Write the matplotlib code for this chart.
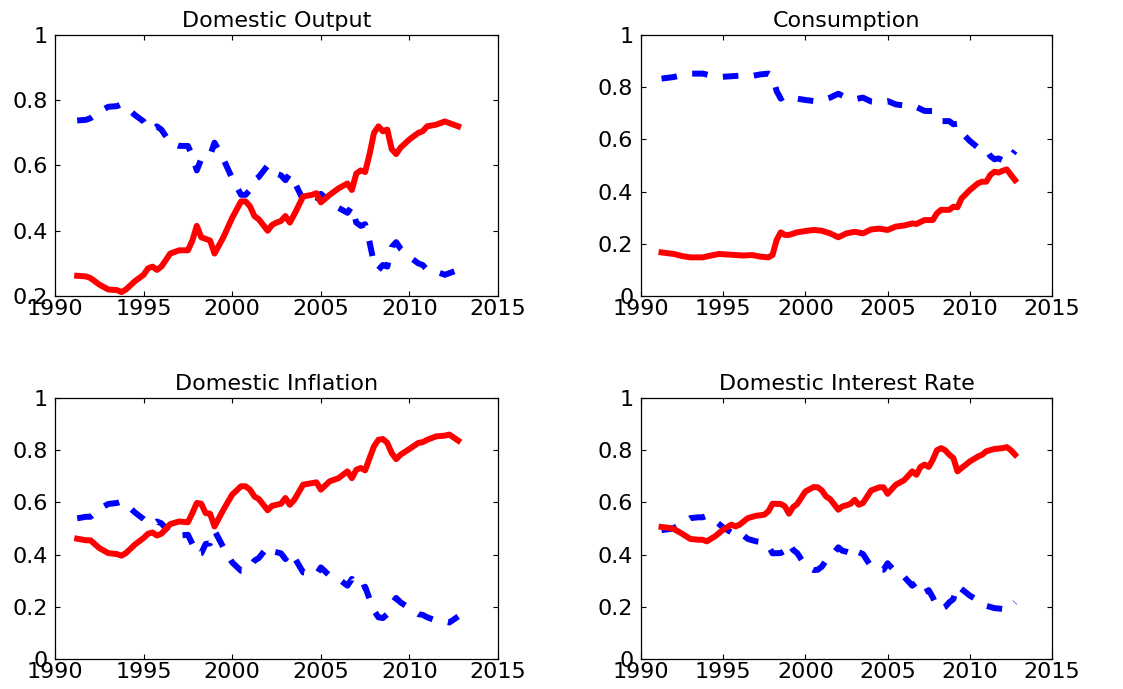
import matplotlib
matplotlib.use("Agg")
import matplotlib.pyplot as plt

# ---- data ----
titles = ["Domestic Output", "Consumption", "Domestic Inflation", "Domestic Interest Rate"]

yrs_output = [1991.25, 1991.75, 1992.0, 1992.5, 1993.0, 1993.5, 1993.75, 1994.0, 1994.5, 1995.0,
              1995.25, 1995.5, 1995.75, 1996.0, 1996.5, 1997.0, 1997.5, 1997.75, 1998.0, 1998.25,
              1998.75, 1999.0, 1999.5, 2000.0, 2000.5, 2000.75, 2001.0, 2001.25, 2001.5, 2002.0,
              2002.25, 2002.5, 2002.75, 2003.0, 2003.25, 2003.5, 2004.0, 2004.5, 2004.75, 2005.0,
              2005.5, 2006.0, 2006.5, 2006.75, 2007.0, 2007.25, 2007.5, 2007.75, 2008.0, 2008.25,
              2008.5, 2008.75, 2009.0, 2009.25, 2009.5, 2010.0, 2010.5, 2010.75, 2011.0, 2011.5,
              2012.0, 2012.25, 2012.75]
red_output = [0.262, 0.26, 0.255, 0.235, 0.22, 0.218, 0.212, 0.22, 0.245, 0.265,
              0.285, 0.29, 0.28, 0.29, 0.33, 0.34, 0.34, 0.37, 0.415, 0.38,
              0.37, 0.33, 0.38, 0.44, 0.49, 0.49, 0.475, 0.445, 0.435, 0.40,
              0.418, 0.425, 0.43, 0.445, 0.425, 0.45, 0.505, 0.51, 0.515, 0.487,
              0.51, 0.53, 0.545, 0.525, 0.575, 0.585, 0.58, 0.635, 0.70, 0.72,
              0.705, 0.71, 0.65, 0.635, 0.655, 0.68, 0.70, 0.705, 0.72, 0.725,
              0.735, 0.73, 0.72]
blue_output = [0.738, 0.74, 0.745, 0.765, 0.78, 0.782, 0.788, 0.78, 0.755, 0.735,
               0.715, 0.71, 0.72, 0.71, 0.67, 0.66, 0.66, 0.63, 0.585, 0.62,
               0.63, 0.67, 0.62, 0.56, 0.51, 0.51, 0.525, 0.555, 0.565, 0.60,
               0.582, 0.575, 0.57, 0.555, 0.575, 0.55, 0.495, 0.49, 0.485, 0.513,
               0.49, 0.47, 0.455, 0.475, 0.425, 0.415, 0.42, 0.365, 0.30, 0.28,
               0.295, 0.29, 0.35, 0.365, 0.345, 0.32, 0.30, 0.295, 0.28, 0.275,
               0.265, 0.27, 0.28]

yrs_cons = [1991.25, 1992.0, 1992.5, 1993.0, 1993.75, 1994.25, 1994.75, 1995.5, 1996.25, 1996.75,
            1997.25, 1997.75, 1998.0, 1998.25, 1998.5, 1998.75, 1999.0, 1999.5, 2000.0, 2000.5,
            2001.0, 2001.5, 2002.0, 2002.5, 2003.0, 2003.5, 2004.0, 2004.5, 2005.0, 2005.5,
            2006.0, 2006.5, 2006.75, 2007.25, 2007.75, 2008.0, 2008.25, 2008.75, 2009.0, 2009.25,
            2009.5, 2010.0, 2010.5, 2010.75, 2011.0, 2011.25, 2011.5, 2011.75, 2012.0, 2012.25,
            2012.5, 2012.75]
red_cons = [0.167, 0.161, 0.153, 0.148, 0.148, 0.155, 0.161, 0.158, 0.155, 0.157,
            0.151, 0.148, 0.157, 0.215, 0.244, 0.234, 0.234, 0.244, 0.249, 0.253,
            0.25, 0.24, 0.225, 0.24, 0.246, 0.24, 0.255, 0.258, 0.253, 0.266,
            0.27, 0.278, 0.276, 0.291, 0.291, 0.317, 0.33, 0.33, 0.342, 0.34,
            0.374, 0.406, 0.432, 0.438, 0.438, 0.464, 0.476, 0.473, 0.48, 0.485,
            0.464, 0.444]
blue_cons = [0.833, 0.839, 0.847, 0.852, 0.852, 0.845, 0.839, 0.842, 0.845, 0.843,
             0.849, 0.852, 0.843, 0.785, 0.756, 0.766, 0.766, 0.756, 0.751, 0.747,
             0.75, 0.76, 0.775, 0.76, 0.754, 0.76, 0.745, 0.742, 0.747, 0.734,
             0.73, 0.722, 0.724, 0.709, 0.709, 0.683, 0.67, 0.67, 0.658, 0.66,
             0.626, 0.594, 0.568, 0.562, 0.562, 0.536, 0.524, 0.527, 0.52, 0.515,
             0.536, 0.556]

yrs_infl = [1991.25, 1991.75, 1992.0, 1992.5, 1993.0, 1993.5, 1993.75, 1994.0, 1994.5, 1995.0,
            1995.25, 1995.5, 1995.75, 1996.0, 1996.5, 1997.0, 1997.5, 1997.75, 1998.0, 1998.25,
            1998.5, 1998.75, 1999.0, 1999.5, 2000.0, 2000.5, 2000.75, 2001.0, 2001.25, 2001.5,
            2002.0, 2002.25, 2002.5, 2002.75, 2003.0, 2003.25, 2003.5, 2004.0, 2004.5, 2004.75,
            2005.0, 2005.5, 2006.0, 2006.5, 2006.75, 2007.0, 2007.25, 2007.5, 2007.75, 2008.0,
            2008.25, 2008.5, 2008.75, 2009.0, 2009.25, 2009.5, 2010.0, 2010.5, 2010.75, 2011.0,
            2011.5, 2012.0, 2012.25, 2012.75]
red_infl = [0.461, 0.455, 0.455, 0.425, 0.406, 0.402, 0.396, 0.406, 0.438, 0.464,
            0.48, 0.485, 0.473, 0.48, 0.517, 0.527, 0.524, 0.559, 0.598, 0.595,
            0.559, 0.557, 0.508, 0.572, 0.63, 0.662, 0.662, 0.649, 0.623, 0.613,
            0.57, 0.587, 0.591, 0.595, 0.617, 0.591, 0.61, 0.668, 0.674, 0.677,
            0.649, 0.681, 0.693, 0.719, 0.693, 0.725, 0.732, 0.723, 0.77, 0.815,
            0.84, 0.843, 0.828, 0.789, 0.766, 0.783, 0.805, 0.828, 0.831, 0.84,
            0.853, 0.856, 0.86, 0.837]
blue_infl = [0.539, 0.545, 0.545, 0.575, 0.594, 0.598, 0.604, 0.594, 0.562, 0.536,
             0.52, 0.515, 0.527, 0.52, 0.483, 0.473, 0.476, 0.441, 0.402, 0.405,
             0.441, 0.443, 0.492, 0.428, 0.37, 0.338, 0.338, 0.351, 0.377, 0.387,
             0.43, 0.413, 0.409, 0.405, 0.383, 0.409, 0.39, 0.332, 0.326, 0.323,
             0.351, 0.319, 0.307, 0.281, 0.307, 0.275, 0.268, 0.277, 0.23, 0.185,
             0.16, 0.157, 0.172, 0.211, 0.234, 0.217, 0.195, 0.172, 0.169, 0.16,
             0.147, 0.144, 0.14, 0.163]

yrs_rate = [1991.25, 1991.75, 1992.0, 1992.5, 1993.0, 1993.5, 1993.75, 1994.0, 1994.5, 1995.0,
            1995.5, 1995.75, 1996.0, 1996.5, 1997.0, 1997.5, 1997.75, 1998.0, 1998.5, 1998.75,
            1999.0, 1999.25, 1999.5, 2000.0, 2000.5, 2000.75, 2001.0, 2001.25, 2001.5, 2002.0,
            2002.25, 2002.5, 2002.75, 2003.0, 2003.25, 2003.5, 2004.0, 2004.5, 2004.75, 2005.0,
            2005.5, 2006.0, 2006.5, 2006.75, 2007.0, 2007.25, 2007.5, 2007.75, 2008.0, 2008.25,
            2008.5, 2008.75, 2009.0, 2009.25, 2009.5, 2010.0, 2010.5, 2010.75, 2011.0, 2011.5,
            2012.0, 2012.25, 2012.5, 2012.75]
red_rate = [0.506, 0.502, 0.498, 0.48, 0.46, 0.457, 0.457, 0.451, 0.47, 0.496,
            0.515, 0.508, 0.515, 0.54, 0.549, 0.553, 0.566, 0.595, 0.594, 0.585,
            0.557, 0.582, 0.594, 0.642, 0.659, 0.658, 0.646, 0.623, 0.613, 0.572,
            0.585, 0.589, 0.595, 0.61, 0.591, 0.598, 0.646, 0.658, 0.658, 0.633,
            0.668, 0.685, 0.719, 0.706, 0.736, 0.745, 0.736, 0.764, 0.80, 0.808,
            0.80, 0.783, 0.77, 0.719, 0.732, 0.757, 0.776, 0.783, 0.796, 0.805,
            0.808, 0.812, 0.80, 0.783]
blue_rate = [0.494, 0.498, 0.502, 0.52, 0.54, 0.543, 0.543, 0.549, 0.53, 0.504,
             0.485, 0.492, 0.485, 0.46, 0.451, 0.447, 0.434, 0.405, 0.406, 0.415,
             0.443, 0.418, 0.406, 0.358, 0.341, 0.342, 0.354, 0.377, 0.387, 0.428,
             0.415, 0.411, 0.405, 0.39, 0.409, 0.402, 0.354, 0.342, 0.342, 0.367,
             0.332, 0.315, 0.281, 0.294, 0.264, 0.255, 0.264, 0.236, 0.20, 0.192,
             0.20, 0.217, 0.23, 0.281, 0.268, 0.243, 0.224, 0.217, 0.204, 0.195,
             0.192, 0.188, 0.20, 0.217]

x_ticks = [1990, 1995, 2000, 2005, 2010, 2015]
y_ticks_out = [0.2, 0.4, 0.6, 0.8, 1.0]
y_labels_out = ["0.2", "0.4", "0.6", "0.8", "1"]
y_ticks = [0, 0.2, 0.4, 0.6, 0.8, 1.0]
y_labels = ["0", "0.2", "0.4", "0.6", "0.8", "1"]

FS = 16


def panel(ax, title, yrs, red, blue, yt, ylab, ylim):
    ax.plot(yrs, blue, color="#0000ff", lw=4.3, linestyle=(0, (2.6, 2.6)))
    ax.plot(yrs, red, color="#ff0000", lw=4.3, solid_joinstyle="round")
    ax.set_xlim(1990, 2015)
    ax.set_ylim(*ylim)
    ax.set_xticks(x_ticks)
    ax.set_xticklabels([str(t) for t in x_ticks])
    ax.set_yticks(yt)
    ax.set_yticklabels(ylab)
    ax.tick_params(direction="in", top=True, right=True, length=3.5, width=0.8,
                   labelsize=FS)
    ax.tick_params(axis="x", pad=2)
    ax.tick_params(axis="y", pad=5.5)
    for s in ax.spines.values():
        s.set_linewidth(0.9)
    ax.set_title(title, fontsize=FS, pad=6)


fig = plt.figure(figsize=(11.23, 6.89), dpi=100)
ax1 = fig.add_axes([0.0490, 0.5704, 0.3945, 0.3788])
ax2 = fig.add_axes([0.5708, 0.5704, 0.3660, 0.3788])
ax3 = fig.add_axes([0.0490, 0.0435, 0.3945, 0.3788])
ax4 = fig.add_axes([0.5708, 0.0435, 0.3660, 0.3788])

panel(ax1, titles[0], yrs_output, red_output, blue_output, y_ticks_out, y_labels_out, (0.2, 1))
panel(ax2, titles[1], yrs_cons, red_cons, blue_cons, y_ticks, y_labels, (0, 1))
panel(ax3, titles[2], yrs_infl, red_infl, blue_infl, y_ticks, y_labels, (0, 1))
panel(ax4, titles[3], yrs_rate, red_rate, blue_rate, y_ticks, y_labels, (0, 1))

fig.savefig("out.png", dpi=100)
